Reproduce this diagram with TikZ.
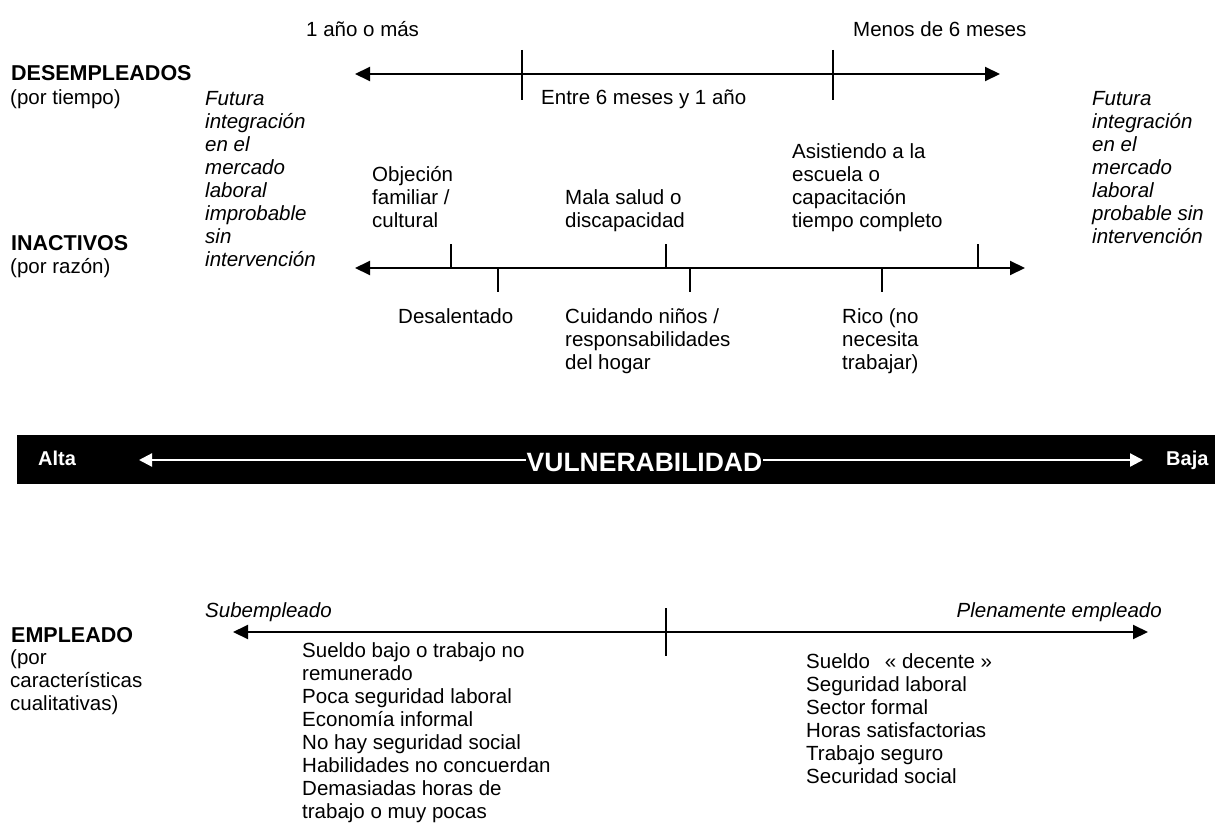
\documentclass[tikz,border=0pt]{standalone}
\usepackage{fontspec}
\setmainfont{Liberation Sans}
\usetikzlibrary{arrows.meta}
\begin{document}
\begin{tikzpicture}[x=1pt,y=-1pt,
  txt/.style={inner sep=0pt, anchor=base west, font=\fontsize{20.5}{23}\selectfont},
  blk/.style={inner sep=0pt, anchor=north west, align=left, font=\fontsize{20.5}{23}\selectfont},
  head/.style={txt, font=\fontsize{21.5}{23}\selectfont\bfseries},
  ital/.style={blk, font=\fontsize{20.5}{23}\selectfont\itshape},
  axis/.style={line width=2pt, {Triangle[length=15pt,width=14pt]}-{Triangle[length=15pt,width=14pt]}},
  tick/.style={line width=1.2pt},
  barlabel/.style={inner sep=0pt, anchor=base west, text=white, font=\fontsize{20}{22}\selectfont\bfseries},
  warrow/.style={draw=white, line width=2.2pt, -{Triangle[length=13pt,width=13pt]}}
]
\useasboundingbox (0,0) rectangle (1215,832);

% ---------- DESEMPLEADOS ----------
\node[head] (desH) at (11,81) {DESEMPLEADOS};
\node[txt] (desS) at (10,105) {(por tiempo)};
\node[ital] (futL) at (205,88.9) {\strut Futura\\integración\\en el\\mercado\\laboral\\improbable\\sin\\intervención};
\node[ital] (futR) at (1092,88.9) {\strut Futura\\integración\\en el\\mercado\\laboral\\probable sin\\intervención};
\node[txt] (anio) at (306,37) {1 año o más};
\node[txt] (menos) at (853,37) {Menos de 6 meses};
\node[txt] (entre) at (541,105) {Entre 6 meses y 1 año};

\coordinate (tL) at (355,74);
\coordinate (tR) at (1000,74);
\coordinate (t1a) at (522,50);
\coordinate (t1b) at (522,100);
\coordinate (t2a) at (833,50);
\coordinate (t2b) at (833,100);
\draw[axis] (tL) -- (tR);
\draw[tick] (t1a) -- (t1b);
\draw[tick] (t2a) -- (t2b);

% ---------- INACTIVOS ----------
\node[head] (inaH) at (11,250) {INACTIVOS};
\node[txt] (inaS) at (10,273) {(por razón)};
\node[blk] (objec) at (372,164.9) {\strut Objeción\\familiar /\\cultural};
\node[blk] (mala) at (565,187.9) {\strut Mala salud o\\discapacidad};
\node[blk] (asist) at (792,141.9) {\strut Asistiendo a la\\escuela o\\capacitación\\tiempo completo};
\node[txt] (desal) at (398,323) {Desalentado};
\node[blk] (cuid) at (565,306.9) {\strut Cuidando niños /\\responsabilidades\\del hogar};
\node[blk] (rico) at (842,306.9) {\strut Rico (no\\necesita\\trabajar)};

\coordinate (iL) at (355,268);
\coordinate (iR) at (1025,268);
\draw[axis] (iL) -- (iR);
\coordinate (u1a) at (451,244); \coordinate (u1b) at (451,268);
\coordinate (u2a) at (666,244); \coordinate (u2b) at (666,268);
\coordinate (u3a) at (978,244); \coordinate (u3b) at (978,268);
\coordinate (d1a) at (498,268); \coordinate (d1b) at (498,292);
\coordinate (d2a) at (690,268); \coordinate (d2b) at (690,292);
\coordinate (d3a) at (882,268); \coordinate (d3b) at (882,292);
\draw[tick] (u1a) -- (u1b);
\draw[tick] (u2a) -- (u2b);
\draw[tick] (u3a) -- (u3b);
\draw[tick] (d1a) -- (d1b);
\draw[tick] (d2a) -- (d2b);
\draw[tick] (d3a) -- (d3b);

% ---------- VULNERABILIDAD bar ----------
\node[fill=black, inner sep=0pt, minimum width=1198pt, minimum height=49pt, anchor=north west] (bar) at (17,434.5) {};
\node[barlabel] (alta) at (38,465) {Alta};
\node[barlabel] (baja) at (1166,465) {Baja};
\node[inner sep=1pt, text=white, font=\fontsize{26.5}{28}\selectfont\bfseries] (vuln) at (644.5,462.5) {VULNERABILIDAD};
\coordinate (vL) at (139,460);
\coordinate (vR) at (1143,460);
\draw[warrow] (vuln.west |- vL) -- (vL);
\draw[warrow] (vuln.east |- vR) -- (vR);

% ---------- EMPLEADO ----------
\node[ital, anchor=base west] (sub) at (205,617) {Subempleado};
\node[ital, anchor=base east] (plen) at (1162,617) {Plenamente empleado};
\node[head] (empH) at (11,642) {EMPLEADO};
\node[blk] (empS) at (10,647.9) {\strut (por\\características\\cualitativas)};

\coordinate (bL) at (233,632);
\coordinate (bR) at (1148,632);
\coordinate (b1a) at (666,608);
\coordinate (b1b) at (666,656);
\draw[axis] (bL) -- (bR);
\draw[tick] (b1a) -- (b1b);

\node[blk] (listL) at (302,640.9) {\strut Sueldo bajo o trabajo no\\remunerado\\Poca seguridad laboral\\Economía informal\\No hay seguridad social\\Habilidades no concuerdan\\Demasiadas horas de\\trabajo o muy pocas};
\node[blk] (listR) at (806,651.9) {\strut Sueldo\hspace{0.45em} « decente »\\Seguridad laboral\\Sector formal\\Horas satisfactorias\\Trabajo seguro\\Securidad social};
\end{tikzpicture}
\end{document}
